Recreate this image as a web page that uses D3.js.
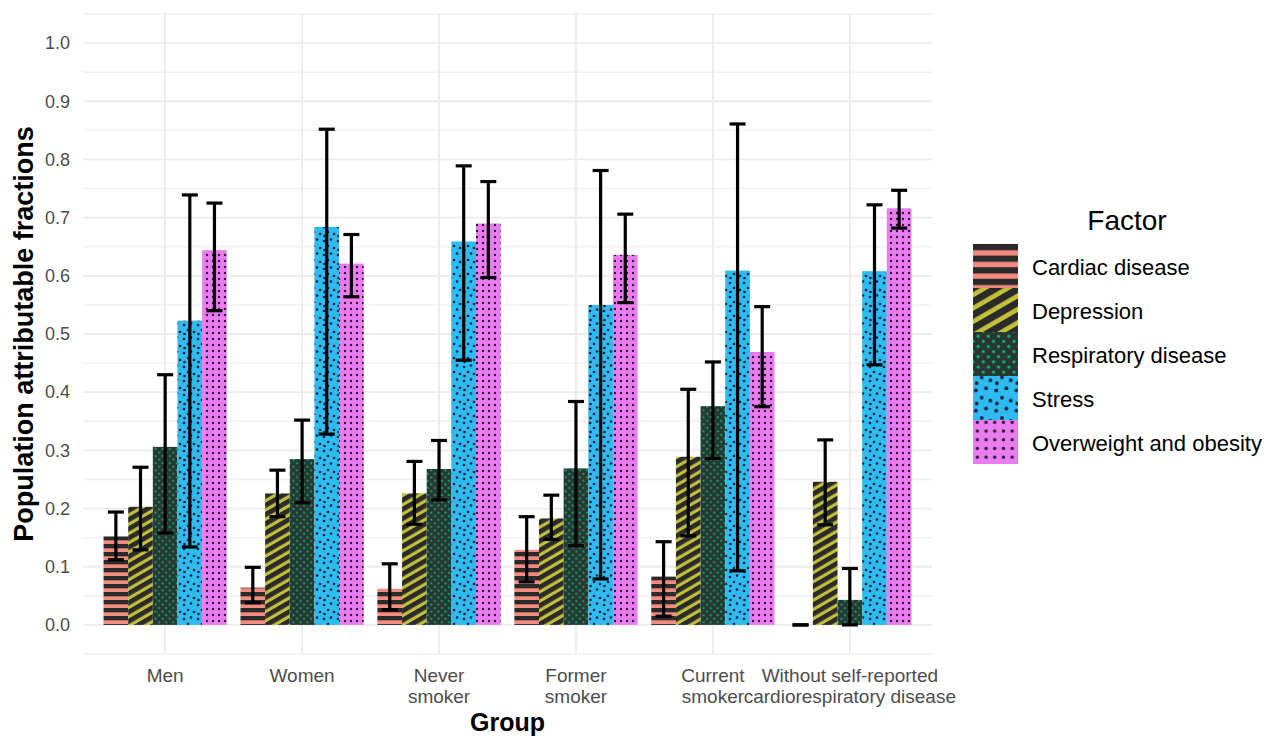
<!DOCTYPE html>
<html>
<head>
<meta charset="utf-8">
<script src="https://cdn.jsdelivr.net/npm/d3@7"></script>
<style>
  body { margin: 0; background: #fff; }
  text { font-family: "Liberation Sans", Arial, sans-serif; }
</style>
</head>
<body>
<svg id="chart" width="1264" height="740"></svg>
<script>
// groups and factors
var groups = ["Men", "Women", "Never\nsmoker", "Former\nsmoker", "Current\nsmoker", "Without self-reported\ncardiorespiratory disease"];
var factors = ["Cardiac disease", "Depression", "Respiratory disease", "Stress", "Overweight and obesity"];

// PAF estimates per factor (one value per group) and CI bounds
var cardiac     = [0.152, 0.064, 0.062, 0.129, 0.083, 0.000];
var cardiacLo   = [0.112, 0.038, 0.026, 0.074, 0.015, 0.000];
var cardiacHi   = [0.194, 0.099, 0.105, 0.186, 0.143, 0.000];
var depression   = [0.203, 0.226, 0.226, 0.183, 0.289, 0.246];
var depressionLo = [0.129, 0.186, 0.173, 0.147, 0.153, 0.172];
var depressionHi = [0.271, 0.266, 0.281, 0.223, 0.405, 0.318];
var respiratory   = [0.306, 0.285, 0.268, 0.269, 0.376, 0.043];
var respiratoryLo = [0.158, 0.210, 0.215, 0.136, 0.286, 0.000];
var respiratoryHi = [0.430, 0.352, 0.317, 0.384, 0.452, 0.097];
var stress   = [0.523, 0.684, 0.659, 0.550, 0.609, 0.608];
var stressLo = [0.134, 0.328, 0.455, 0.079, 0.093, 0.447];
var stressHi = [0.739, 0.852, 0.789, 0.781, 0.861, 0.722];
var overweight   = [0.644, 0.621, 0.690, 0.636, 0.469, 0.716];
var overweightLo = [0.540, 0.564, 0.597, 0.554, 0.375, 0.682];
var overweightHi = [0.725, 0.671, 0.762, 0.706, 0.547, 0.747];

var yTicks = [0, 0.1, 0.2, 0.3, 0.4, 0.5, 0.6, 0.7, 0.8, 0.9, 1.0];

var series = [
  {key: "cardiac", vals: cardiac, lo: cardiacLo, hi: cardiacHi},
  {key: "depression", vals: depression, lo: depressionLo, hi: depressionHi},
  {key: "respiratory", vals: respiratory, lo: respiratoryLo, hi: respiratoryHi},
  {key: "stress", vals: stress, lo: stressLo, hi: stressHi},
  {key: "overweight", vals: overweight, lo: overweightLo, hi: overweightHi}
];

var colors = ["#F58A80", "#C2BF3A", "#00BF7D", "#2EBBF0", "#EA7CF0"];
var ink = "#2a2a2a";

var svg = d3.select("#chart");
var defs = svg.append("defs");

// pattern fills, roughly like ggpattern's stripe / crosshatch / circle
function makePattern(id, i, s) {
  var p;
  if (i === 0) {
    p = defs.append("pattern").attr("id", id).attr("patternUnits", "userSpaceOnUse")
      .attr("width", 8 * s).attr("height", 8 * s);
    p.append("rect").attr("width", 8 * s).attr("height", 8 * s).attr("fill", colors[0]);
    p.append("rect").attr("y", 0).attr("width", 8 * s).attr("height", 4.3 * s).attr("fill", ink);
  } else if (i === 1) {
    p = defs.append("pattern").attr("id", id).attr("patternUnits", "userSpaceOnUse")
      .attr("width", 8 * s).attr("height", 8 * s).attr("patternTransform", "rotate(-30)");
    p.append("rect").attr("width", 8 * s).attr("height", 8 * s).attr("fill", colors[1]);
    p.append("rect").attr("width", 8 * s).attr("height", 4.8 * s).attr("fill", ink);
  } else if (i === 2) {
    p = defs.append("pattern").attr("id", id).attr("patternUnits", "userSpaceOnUse")
      .attr("width", 5 * s).attr("height", 5 * s).attr("patternTransform", "rotate(45)");
    p.append("rect").attr("width", 5 * s).attr("height", 5 * s).attr("fill", "#2a3631");
    p.append("circle").attr("cx", 2.5 * s).attr("cy", 2.5 * s).attr("r", 1.1 * s).attr("fill", colors[2]);
  } else if (i === 3) {
    p = defs.append("pattern").attr("id", id).attr("patternUnits", "userSpaceOnUse")
      .attr("width", 14 * s).attr("height", 14 * s);
    p.append("rect").attr("width", 14 * s).attr("height", 14 * s).attr("fill", colors[3]);
    [[2, 3], [9, 1.5], [6, 8], [12, 10], [2.5, 12]].forEach(function(d) {
      p.append("circle").attr("cx", d[0] * s).attr("cy", d[1] * s).attr("r", 1.3 * s).attr("fill", "#1b1f3a");
    });
  } else {
    p = defs.append("pattern").attr("id", id).attr("patternUnits", "userSpaceOnUse")
      .attr("width", 6 * s).attr("height", 6 * s);
    p.append("rect").attr("width", 6 * s).attr("height", 6 * s).attr("fill", colors[4]);
    p.append("circle").attr("cx", 3 * s).attr("cy", 3 * s).attr("r", 1.2 * s).attr("fill", "#2b1838");
  }
}
series.forEach(function(d, i) {
  makePattern("pat-" + d.key, i, 1);
  makePattern("leg-" + d.key, i, 1.45);
});

var panel = {left: 83, right: 932, top: 14, bottom: 654};

var x = d3.scaleBand().domain(groups).range([panel.left, panel.right]).paddingInner(0.1).paddingOuter(0.15);
var xInner = d3.scaleBand().domain(series.map(function(d) { return d.key; })).range([0, x.bandwidth()]);
var y = d3.scaleLinear().domain([-0.05, 1.05]).range([panel.bottom, panel.top]);

// grid
var grid = svg.append("g");
var minor = d3.range(-0.05, 1.06, 0.1);
grid.selectAll(".minor").data(minor).enter().append("line")
  .attr("x1", panel.left).attr("x2", panel.right)
  .attr("y1", function(d) { return y(d); }).attr("y2", function(d) { return y(d); })
  .attr("stroke", "#f0f0f0").attr("stroke-width", 1.4);
grid.selectAll(".major").data(yTicks).enter().append("line")
  .attr("x1", panel.left).attr("x2", panel.right)
  .attr("y1", function(d) { return y(d); }).attr("y2", function(d) { return y(d); })
  .attr("stroke", "#ebebeb").attr("stroke-width", 1.8);
grid.selectAll(".vmajor").data(groups).enter().append("line")
  .attr("x1", function(d) { return x(d) + x.bandwidth() / 2; })
  .attr("x2", function(d) { return x(d) + x.bandwidth() / 2; })
  .attr("y1", panel.top).attr("y2", panel.bottom)
  .attr("stroke", "#ebebeb").attr("stroke-width", 1.8);

// y axis labels
var yAxis = d3.axisLeft(y).tickValues(yTicks).tickFormat(d3.format(".1f")).tickSize(0).tickPadding(13);
var yg = svg.append("g").attr("transform", "translate(" + panel.left + ",0)").call(yAxis);
yg.select(".domain").remove();
yg.selectAll("text").attr("font-size", 18).attr("fill", "#4d4d4d")
  .style("font-family", "'Liberation Sans', Arial, sans-serif");

// x axis labels (multi-line)
var xAxis = d3.axisBottom(x).tickSize(0).tickFormat("");
var xg = svg.append("g").attr("transform", "translate(0," + panel.bottom + ")").call(xAxis);
xg.select(".domain").remove();
xg.selectAll(".tick").each(function(d) {
  var t = d3.select(this).append("text").attr("text-anchor", "middle")
    .attr("font-size", 19).attr("fill", "#4d4d4d");
  d.split("\n").forEach(function(line, k) {
    t.append("tspan").attr("x", 0).attr("y", 28 + k * 21).text(line);
  });
});

// bars
var bars = svg.append("g");
series.forEach(function(s) {
  bars.selectAll(".b-" + s.key).data(groups).enter().append("rect")
    .attr("x", function(g) { return x(g) + xInner(s.key); })
    .attr("width", xInner.bandwidth())
    .attr("y", function(g, i) { return y(s.vals[i]); })
    .attr("height", function(g, i) { return y(0) - y(s.vals[i]); })
    .attr("fill", "url(#pat-" + s.key + ")");
});

// error bars
var eb = svg.append("g").attr("stroke", "#000").attr("stroke-width", 3.2).attr("fill", "none");
var cap = 8;
series.forEach(function(s) {
  groups.forEach(function(g, i) {
    var cx = x(g) + xInner(s.key) + xInner.bandwidth() / 2;
    eb.append("line").attr("x1", cx).attr("x2", cx).attr("y1", y(s.lo[i])).attr("y2", y(s.hi[i]));
    eb.append("line").attr("x1", cx - cap).attr("x2", cx + cap).attr("y1", y(s.lo[i])).attr("y2", y(s.lo[i]));
    eb.append("line").attr("x1", cx - cap).attr("x2", cx + cap).attr("y1", y(s.hi[i])).attr("y2", y(s.hi[i]));
  });
});

// axis titles
svg.append("text").attr("x", (panel.left + panel.right) / 2).attr("y", 731).attr("text-anchor", "middle")
  .attr("font-size", 25).attr("font-weight", "bold").attr("fill", "#000").text("Group");
svg.append("text").attr("transform", "translate(33," + ((panel.top + panel.bottom) / 2) + ") rotate(-90)")
  .attr("text-anchor", "middle").attr("font-size", 27).attr("font-weight", "bold").attr("fill", "#000")
  .text("Population attributable fractions");

// legend
var lg = svg.append("g").attr("transform", "translate(973,244)");
lg.append("text").attr("x", 154).attr("y", -14).attr("text-anchor", "middle")
  .attr("font-size", 28).attr("fill", "#000").text("Factor");
series.forEach(function(s, i) {
  lg.append("rect").attr("x", 0).attr("y", i * 44).attr("width", 45).attr("height", 44)
    .attr("fill", "url(#leg-" + s.key + ")");
  lg.append("text").attr("x", 59).attr("y", i * 44 + 31).attr("font-size", 22).attr("fill", "#000")
    .text(factors[i]);
});
</script>
</body>
</html>
